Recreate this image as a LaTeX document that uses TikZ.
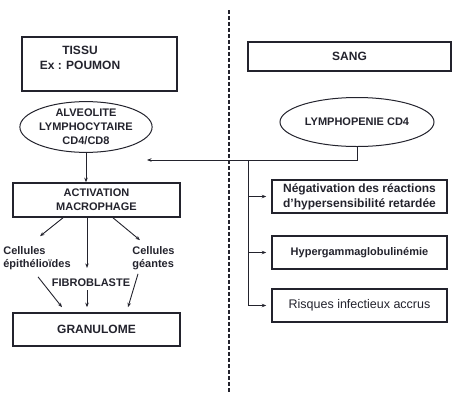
\documentclass[tikz,border=0pt]{standalone}
\usepackage{fontspec}
\setmainfont{Liberation Sans}
\usetikzlibrary{shapes,arrows.meta,positioning,calc}
\definecolor{inkgray}{RGB}{35,35,45}

\begin{document}
\begin{tikzpicture}[x=1pt, y=-1pt, color=inkgray,
    box/.style={draw, line width=1.6pt, inner sep=0pt, align=center,
        font=\bfseries\fontsize{11}{14}\selectfont},
    oval/.style={draw, ellipse, line width=1pt, inner sep=0pt, align=center,
        font=\bfseries\fontsize{11}{14}\selectfont},
    lbl/.style={inner sep=0pt, align=left, font=\bfseries\fontsize{11}{13}\selectfont},
    arr/.style={-{Stealth[length=4.5pt,width=3.5pt]}, line width=0.9pt}]
    \useasboundingbox (0,0) rectangle (455,405);

    % Separation tissu / sang
    \draw[line width=1.4pt, dash pattern=on 4pt off 2pt] (229,10) -- (229,392);

    % Left side: tissu
    \node[box, minimum width=155, minimum height=54] (tissu) at (99.5,64) {};
    \node[lbl, align=center, font=\bfseries\fontsize{12}{15}\selectfont] (tissutxt) at (80,58) {TISSU\\Ex : POUMON};
    \node[oval, minimum width=118, minimum height=49] (alveo) at (86,127) {ALVEOLITE\\LYMPHOCYTAIRE\\CD4/CD8};
    \node[box, minimum width=167, minimum height=34] (activ) at (96.5,200) {ACTIVATION\\MACROPHAGE};
    \node[lbl] (epith) at (37,258) {Cellules\\épithélioïdes};
    \node[lbl] (geant) at (153.5,258) {Cellules\\géantes};
    \node[lbl] (fibro) at (91,283) {FIBROBLASTE};
    \node[box, minimum width=167, minimum height=33, font=\bfseries\fontsize{12}{14}\selectfont] (granu) at (96.5,329.5) {GRANULOME};

    % Right side: sang
    \node[box, minimum width=203, minimum height=29, font=\bfseries\fontsize{12}{14}\selectfont] (sang) at (349.5,56.5) {SANG};
    \node[oval, minimum width=154, minimum height=49] (lympho) at (357,122) {LYMPHOPENIE CD4};
    \node[box, minimum width=175, minimum height=33, font=\bfseries\fontsize{12}{15}\selectfont] (neg) at (359.5,196.5) {Négativation des réactions\\d'hypersensibilité retardée};
    \node[box, minimum width=175, minimum height=33] (hyper) at (359.5,252.5) {Hypergammaglobulinémie};
    \node[box, minimum width=175, minimum height=33, font=\fontsize{12.5}{14}\selectfont] (risq) at (359.5,305.5) {Risques infectieux accrus};

    % Connectors
    \coordinate (tip) at (147,160);
    \coordinate (fork) at (248,160);
    \draw[arr] (alveo.south) -- (alveo.south |- activ.north);
    \draw[arr] (lympho.south) |- (tip);
    \draw[arr, shorten >=5pt] (fork) |- (neg.west);
    \draw[arr, shorten >=5pt] (fork) |- (hyper.west);
    \draw[arr, shorten >=5pt] (fork) |- (risq.west);

    \draw[arr] ([xshift=-33.5pt]activ.south) -- ([xshift=3pt,yshift=10pt]epith.north);
    \draw[arr] ([xshift=-9.5pt]activ.south) -- ([xshift=-4pt,yshift=11pt]fibro.north);
    \draw[arr] ([xshift=16.5pt]activ.south) -- ([xshift=-13.5pt,yshift=6pt]geant.north);
    \draw[arr] ([xshift=1pt,yshift=-7pt]epith.south) -- ([xshift=-34.5pt,yshift=5pt]granu.north);
    \draw[arr] ([xshift=-4pt,yshift=-3pt]fibro.south) -- ([xshift=-9.5pt,yshift=5pt]granu.north);
    \draw[arr] ([xshift=-15.5pt,yshift=-4pt]geant.south) -- ([xshift=31.5pt,yshift=5pt]granu.north);
\end{tikzpicture}
\end{document}
